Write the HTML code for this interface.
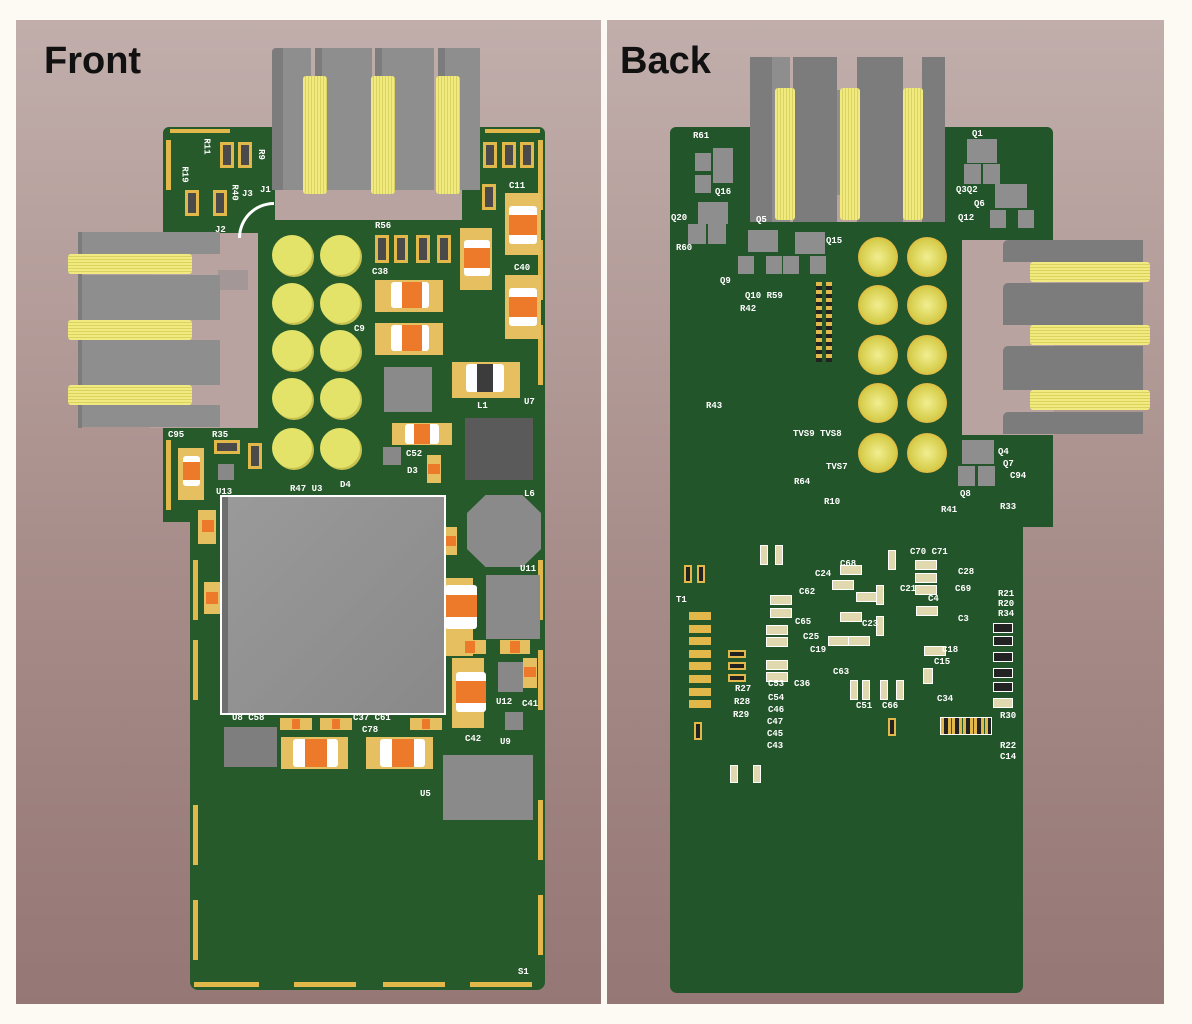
<!DOCTYPE html>
<html><head><meta charset="utf-8"><style>
*{margin:0;padding:0;box-sizing:border-box}
body{width:1192px;height:1024px;background:#fdfaf3;position:relative;overflow:hidden;font-family:"Liberation Mono",monospace}
div{position:absolute}
.panel{background:linear-gradient(#c1aeab,#a58a87 60%,#957775)}
.g{background:#275a2b}
.gb{background:#23552a}
.pk{background:#b8a3a0}
.gr{background:#8e8e8e}
.gd{background:#7c7c7c}
.cy{background:#eaea80}
.pad{background:#e2b84a}
.t{color:#fff;font-size:9px;font-weight:bold;line-height:9px;white-space:nowrap}
.circ{width:40px;height:40px;border-radius:50%;background:#e3e36a;box-shadow:2px 2px 0 #c8c250}
.bc{width:40px;height:40px;border-radius:50%;background:radial-gradient(#f2ee90,#d6ce4c 60%,#e8b040 75%)}
.cap{background:#fff;border-radius:3px}
.cap i{position:absolute;top:0;bottom:0;left:25%;right:25%;background:#ec7a2a}
.cv i{left:0;right:0;top:25%;bottom:25%}
.res{background:#4a4a4a;border:3px solid #e2b84a}
.sm{background:#e6c060}
.coil{background:repeating-linear-gradient(90deg,#f0ea80 0 2px,#d9d35e 2px 3px)}
.coilh{background:repeating-linear-gradient(0deg,#f0ea80 0 2px,#d9d35e 2px 3px)}
.h1{font-family:"Liberation Sans",sans-serif;font-weight:bold;font-size:38px;color:#111}
</style></head><body>

<!-- FRONT PANEL -->
<div class="panel" style="left:16px;top:20px;width:585px;height:984px"></div>
<div class="h1" style="left:44px;top:40px">Front</div>

<!-- front board -->
<div class="g" style="left:163px;top:127px;width:382px;height:395px;border-radius:6px 6px 0 0"></div>
<div class="g" style="left:190px;top:500px;width:355px;height:490px;border-radius:0 0 8px 8px"></div>
<!-- edge pads -->
<div class="pad" style="left:194px;top:982px;width:65px;height:5px"></div>
<div class="pad" style="left:294px;top:982px;width:62px;height:5px"></div>
<div class="pad" style="left:383px;top:982px;width:62px;height:5px"></div>
<div class="pad" style="left:470px;top:982px;width:62px;height:5px"></div>
<div class="pad" style="left:538px;top:140px;width:5px;height:70px"></div>
<div class="pad" style="left:538px;top:240px;width:5px;height:60px"></div>
<div class="pad" style="left:538px;top:325px;width:5px;height:60px"></div>
<div class="pad" style="left:538px;top:560px;width:5px;height:60px"></div>
<div class="pad" style="left:538px;top:650px;width:5px;height:60px"></div>
<div class="pad" style="left:538px;top:800px;width:5px;height:60px"></div>
<div class="pad" style="left:538px;top:895px;width:5px;height:60px"></div>
<div class="pad" style="left:193px;top:560px;width:5px;height:60px"></div>
<div class="pad" style="left:193px;top:640px;width:5px;height:60px"></div>
<div class="pad" style="left:193px;top:805px;width:5px;height:60px"></div>
<div class="pad" style="left:193px;top:900px;width:5px;height:60px"></div>
<div class="pad" style="left:166px;top:140px;width:5px;height:50px"></div>
<div class="pad" style="left:166px;top:440px;width:5px;height:70px"></div>
<div class="pad" style="left:170px;top:129px;width:60px;height:4px"></div>
<div class="pad" style="left:485px;top:129px;width:55px;height:4px"></div>

<!-- top connector cutout & connector -->
<div class="pk" style="left:275px;top:120px;width:187px;height:100px"></div>
<div class="gd" style="left:272px;top:48px;width:12px;height:142px;border-radius:4px 0 0 0"></div>
<div class="gr" style="left:283px;top:48px;width:28px;height:142px"></div>
<div class="gd" style="left:315px;top:48px;width:8px;height:142px"></div>
<div class="gr" style="left:322px;top:48px;width:50px;height:142px"></div>
<div class="gd" style="left:375px;top:48px;width:8px;height:142px"></div>
<div class="gr" style="left:382px;top:48px;width:52px;height:142px"></div>
<div class="gd" style="left:438px;top:48px;width:8px;height:142px"></div>
<div class="gr" style="left:445px;top:48px;width:35px;height:142px"></div>
<div class="coil" style="left:303px;top:76px;width:24px;height:118px;border-radius:3px"></div>
<div class="coil" style="left:371px;top:76px;width:24px;height:118px;border-radius:3px"></div>
<div class="coil" style="left:436px;top:76px;width:24px;height:118px;border-radius:3px"></div>

<!-- left connector -->
<div class="pk" style="left:150px;top:233px;width:108px;height:195px"></div>
<div class="gr" style="left:80px;top:232px;width:140px;height:22px"></div>
<div class="gr" style="left:80px;top:275px;width:140px;height:45px"></div>
<div class="gr" style="left:80px;top:340px;width:140px;height:45px"></div>
<div class="gr" style="left:80px;top:405px;width:140px;height:22px"></div>
<div class="gd" style="left:78px;top:232px;width:4px;height:196px"></div>
<div class="coilh" style="left:68px;top:254px;width:124px;height:20px;border-radius:3px"></div>
<div class="coilh" style="left:68px;top:320px;width:124px;height:20px;border-radius:3px"></div>
<div class="coilh" style="left:68px;top:385px;width:124px;height:20px;border-radius:3px"></div>
<div class="gr" style="left:218px;top:270px;width:30px;height:20px;opacity:.5"></div>

<!-- front circles -->
<div class="circ" style="left:272px;top:235px"></div><div class="circ" style="left:320px;top:235px"></div>
<div class="circ" style="left:272px;top:283px"></div><div class="circ" style="left:320px;top:283px"></div>
<div class="circ" style="left:272px;top:330px"></div><div class="circ" style="left:320px;top:330px"></div>
<div class="circ" style="left:272px;top:378px"></div><div class="circ" style="left:320px;top:378px"></div>
<div class="circ" style="left:272px;top:428px"></div><div class="circ" style="left:320px;top:428px"></div>
<div style="left:238px;top:202px;width:36px;height:36px;border:3px solid #fff;border-right:none;border-bottom:none;border-radius:36px 0 0 0"></div>

<!-- front resistors -->
<div class="res" style="left:220px;top:142px;width:14px;height:26px"></div>
<div class="res" style="left:238px;top:142px;width:14px;height:26px"></div>
<div class="res" style="left:185px;top:190px;width:14px;height:26px"></div>
<div class="res" style="left:213px;top:190px;width:14px;height:26px"></div>
<div class="res" style="left:483px;top:142px;width:14px;height:26px"></div>
<div class="res" style="left:502px;top:142px;width:14px;height:26px"></div>
<div class="res" style="left:520px;top:142px;width:14px;height:26px"></div>
<div class="res" style="left:482px;top:184px;width:14px;height:26px"></div>
<div class="res" style="left:375px;top:235px;width:14px;height:28px"></div>
<div class="res" style="left:394px;top:235px;width:14px;height:28px"></div>
<div class="res" style="left:416px;top:235px;width:14px;height:28px"></div>
<div class="res" style="left:437px;top:235px;width:14px;height:28px"></div>
<div class="res" style="left:214px;top:440px;width:26px;height:14px"></div>
<div class="res" style="left:248px;top:443px;width:14px;height:26px"></div>

<!-- front caps -->
<div class="sm" style="left:505px;top:193px;width:36px;height:62px"></div>
<div class="cap" style="left:509px;top:206px;width:28px;height:38px"></div><div style="left:509px;top:215px;width:28px;height:20px;background:#ec7a2a"></div>
<div class="sm" style="left:505px;top:275px;width:36px;height:64px"></div>
<div class="cap" style="left:509px;top:288px;width:28px;height:38px"></div><div style="left:509px;top:297px;width:28px;height:20px;background:#ec7a2a"></div>
<div class="sm" style="left:460px;top:228px;width:32px;height:62px"></div>
<div class="cap" style="left:464px;top:240px;width:26px;height:36px"></div><div style="left:464px;top:248px;width:26px;height:20px;background:#ec7a2a"></div>
<div class="sm" style="left:375px;top:280px;width:68px;height:32px"></div>
<div class="cap" style="left:391px;top:282px;width:38px;height:26px"></div><div style="left:402px;top:282px;width:20px;height:26px;background:#ec7a2a"></div>
<div class="sm" style="left:375px;top:323px;width:68px;height:32px"></div>
<div class="cap" style="left:391px;top:325px;width:38px;height:26px"></div><div style="left:402px;top:325px;width:20px;height:26px;background:#ec7a2a"></div>
<div class="sm" style="left:392px;top:423px;width:60px;height:22px"></div>
<div class="cap" style="left:405px;top:424px;width:34px;height:20px"></div><div style="left:414px;top:424px;width:16px;height:20px;background:#ec7a2a"></div>
<div class="sm" style="left:452px;top:362px;width:68px;height:36px"></div>
<div class="cap" style="left:466px;top:364px;width:38px;height:28px"></div><div style="left:477px;top:364px;width:16px;height:28px;background:#3c3c3c"></div>
<div class="sm" style="left:178px;top:448px;width:26px;height:52px"></div>
<div class="cap" style="left:183px;top:456px;width:17px;height:30px"></div><div style="left:183px;top:462px;width:17px;height:18px;background:#ec7a2a"></div>
<div class="sm" style="left:198px;top:510px;width:18px;height:34px"></div><div style="left:202px;top:520px;width:12px;height:12px;background:#ec7a2a"></div>
<div class="sm" style="left:204px;top:582px;width:16px;height:32px"></div><div style="left:206px;top:592px;width:12px;height:12px;background:#ec7a2a"></div>
<div class="sm" style="left:445px;top:578px;width:28px;height:78px"></div>
<div class="cap" style="left:445px;top:585px;width:32px;height:44px"></div><div style="left:445px;top:595px;width:32px;height:22px;background:#ec7a2a"></div>
<div class="sm" style="left:452px;top:658px;width:32px;height:70px"></div>
<div class="cap" style="left:456px;top:672px;width:30px;height:40px"></div><div style="left:456px;top:681px;width:30px;height:22px;background:#ec7a2a"></div>
<div class="sm" style="left:456px;top:640px;width:30px;height:14px"></div><div style="left:465px;top:641px;width:10px;height:12px;background:#ec7a2a"></div>
<div class="sm" style="left:500px;top:640px;width:30px;height:14px"></div><div style="left:510px;top:641px;width:10px;height:12px;background:#ec7a2a"></div>
<div class="sm" style="left:523px;top:658px;width:14px;height:30px"></div><div style="left:524px;top:667px;width:12px;height:10px;background:#ec7a2a"></div>
<div class="sm" style="left:280px;top:718px;width:32px;height:12px"></div><div style="left:292px;top:719px;width:8px;height:10px;background:#ec7a2a"></div>
<div class="sm" style="left:320px;top:718px;width:32px;height:12px"></div><div style="left:332px;top:719px;width:8px;height:10px;background:#ec7a2a"></div>
<div class="sm" style="left:410px;top:718px;width:32px;height:12px"></div><div style="left:422px;top:719px;width:8px;height:10px;background:#ec7a2a"></div>
<div class="sm" style="left:281px;top:737px;width:67px;height:32px"></div>
<div class="cap" style="left:293px;top:739px;width:45px;height:28px"></div><div style="left:305px;top:739px;width:22px;height:28px;background:#ec7a2a"></div>
<div class="sm" style="left:366px;top:737px;width:67px;height:32px"></div>
<div class="cap" style="left:380px;top:739px;width:45px;height:28px"></div><div style="left:392px;top:739px;width:22px;height:28px;background:#ec7a2a"></div>
<div class="sm" style="left:443px;top:527px;width:14px;height:28px"></div><div style="left:444px;top:536px;width:12px;height:10px;background:#ec7a2a"></div>
<div class="sm" style="left:427px;top:455px;width:14px;height:28px"></div><div style="left:428px;top:464px;width:12px;height:10px;background:#ec7a2a"></div>

<!-- front chips -->
<div style="left:220px;top:495px;width:226px;height:220px;background:#fff"></div>
<div style="left:222px;top:497px;width:222px;height:216px;background:linear-gradient(135deg,#9a9a9a,#898989)"></div>
<div style="left:222px;top:497px;width:6px;height:216px;background:#6e6e6e"></div>
<div style="left:467px;top:495px;width:74px;height:72px;background:#8a8a8a;clip-path:polygon(25% 0,75% 0,100% 25%,100% 75%,75% 100%,25% 100%,0 75%,0 25%)"></div>
<div style="left:465px;top:418px;width:68px;height:62px;background:#5a5a5a"></div>
<div style="left:384px;top:367px;width:48px;height:45px;background:#8a8a8a"></div>
<div style="left:486px;top:575px;width:54px;height:64px;background:#8a8a8a"></div>
<div style="left:443px;top:755px;width:90px;height:65px;background:#8a8a8a"></div>
<div style="left:224px;top:727px;width:53px;height:40px;background:#7e7e7e"></div>
<div style="left:498px;top:662px;width:25px;height:30px;background:#888"></div>
<div style="left:505px;top:712px;width:18px;height:18px;background:#888"></div>
<div style="left:383px;top:447px;width:18px;height:18px;background:#888"></div>
<div style="left:218px;top:464px;width:16px;height:16px;background:#888"></div>

<!-- front labels -->
<div class="t" style="left:198px;top:142px;transform:rotate(90deg)">R11</div>
<div class="t" style="left:176px;top:170px;transform:rotate(90deg)">R19</div>
<div class="t" style="left:255px;top:150px;transform:rotate(90deg)">R9</div>
<div class="t" style="left:226px;top:188px;transform:rotate(90deg)">R40</div>
<div class="t" style="left:242px;top:190px">J3</div><div class="t" style="left:260px;top:186px">J1</div>
<div class="t" style="left:215px;top:226px">J2</div>
<div class="t" style="left:509px;top:182px">C11</div>
<div class="t" style="left:375px;top:222px">R56</div>
<div class="t" style="left:372px;top:268px">C38</div>
<div class="t" style="left:514px;top:264px">C40</div>
<div class="t" style="left:354px;top:325px">C9</div>
<div class="t" style="left:168px;top:431px">C95</div><div class="t" style="left:212px;top:431px">R35</div>
<div class="t" style="left:216px;top:488px">U13</div>
<div class="t" style="left:290px;top:485px">R47 U3</div>
<div class="t" style="left:340px;top:481px">D4</div>
<div class="t" style="left:406px;top:450px">C52</div>
<div class="t" style="left:407px;top:467px">D3</div>
<div class="t" style="left:477px;top:402px">L1</div>
<div class="t" style="left:524px;top:398px">U7</div>
<div class="t" style="left:524px;top:490px">L6</div>
<div class="t" style="left:520px;top:565px">U11</div>
<div class="t" style="left:496px;top:698px">U12</div>
<div class="t" style="left:522px;top:700px">C41</div>
<div class="t" style="left:465px;top:735px">C42</div>
<div class="t" style="left:500px;top:738px">U9</div>
<div class="t" style="left:232px;top:714px">U8 C58</div>
<div class="t" style="left:353px;top:714px">C37 C61</div>
<div class="t" style="left:362px;top:726px">C78</div>
<div class="t" style="left:420px;top:790px">U5</div>
<div class="t" style="left:518px;top:968px">S1</div>

<!-- separator -->
<div style="left:601px;top:20px;width:6px;height:984px;background:#fdfaf3"></div>

<!-- BACK PANEL -->
<div class="panel" style="left:607px;top:20px;width:557px;height:984px"></div>
<div class="h1" style="left:620px;top:40px">Back</div>

<div class="gb" style="left:670px;top:127px;width:383px;height:400px;border-radius:6px 6px 0 0"></div>
<div class="gb" style="left:670px;top:500px;width:353px;height:493px;border-radius:0 0 7px 7px"></div>
<!-- cutouts -->
<div class="pk" style="left:752px;top:120px;width:193px;height:102px"></div>
<div class="pk" style="left:962px;top:240px;width:92px;height:195px"></div>
<!-- top connector back -->
<div class="gd" style="left:750px;top:57px;width:22px;height:165px"></div>
<div class="gr" style="left:772px;top:57px;width:18px;height:165px"></div>
<div class="gd" style="left:793px;top:57px;width:44px;height:165px"></div>
<div class="gd" style="left:857px;top:57px;width:46px;height:165px"></div>
<div class="gd" style="left:922px;top:57px;width:23px;height:165px"></div>
<div class="gr" style="left:837px;top:90px;width:20px;height:105px"></div>
<div class="gr" style="left:903px;top:90px;width:19px;height:105px"></div>
<div class="coil" style="left:775px;top:88px;width:20px;height:132px;border-radius:3px"></div>
<div class="coil" style="left:840px;top:88px;width:20px;height:132px;border-radius:3px"></div>
<div class="coil" style="left:903px;top:88px;width:20px;height:132px;border-radius:3px"></div>
<!-- right connector back -->
<div class="gd" style="left:1003px;top:240px;width:140px;height:22px;border-radius:5px 0 0 0"></div>
<div class="gd" style="left:1003px;top:283px;width:140px;height:42px;border-radius:5px 0 0 0"></div>
<div class="gd" style="left:1003px;top:346px;width:140px;height:44px;border-radius:5px 0 0 0"></div>
<div class="gd" style="left:1003px;top:412px;width:140px;height:22px;border-radius:5px 0 0 0"></div>
<div class="coilh" style="left:1030px;top:262px;width:120px;height:20px;border-radius:3px"></div>
<div class="coilh" style="left:1030px;top:325px;width:120px;height:20px;border-radius:3px"></div>
<div class="coilh" style="left:1030px;top:390px;width:120px;height:20px;border-radius:3px"></div>
<!-- back circles -->
<div class="bc" style="left:858px;top:237px"></div><div class="bc" style="left:907px;top:237px"></div>
<div class="bc" style="left:858px;top:285px"></div><div class="bc" style="left:907px;top:285px"></div>
<div class="bc" style="left:858px;top:335px"></div><div class="bc" style="left:907px;top:335px"></div>
<div class="bc" style="left:858px;top:383px"></div><div class="bc" style="left:907px;top:383px"></div>
<div class="bc" style="left:858px;top:433px"></div><div class="bc" style="left:907px;top:433px"></div>
<!-- back chips -->
<div class="gr" style="left:695px;top:153px;width:16px;height:18px"></div>
<div class="gr" style="left:695px;top:175px;width:16px;height:18px"></div>
<div class="gr" style="left:713px;top:148px;width:20px;height:35px"></div>
<div class="gr" style="left:698px;top:202px;width:30px;height:22px"></div>
<div class="gr" style="left:688px;top:224px;width:18px;height:20px"></div>
<div class="gr" style="left:708px;top:224px;width:18px;height:20px"></div>
<div class="gr" style="left:748px;top:230px;width:30px;height:22px"></div>
<div class="gr" style="left:795px;top:232px;width:30px;height:22px"></div>
<div class="gr" style="left:738px;top:256px;width:16px;height:18px"></div>
<div class="gr" style="left:766px;top:256px;width:16px;height:18px"></div>
<div class="gr" style="left:783px;top:256px;width:16px;height:18px"></div>
<div class="gr" style="left:810px;top:256px;width:16px;height:18px"></div>
<div class="gr" style="left:967px;top:139px;width:30px;height:24px"></div>
<div class="gr" style="left:964px;top:164px;width:17px;height:20px"></div>
<div class="gr" style="left:983px;top:164px;width:17px;height:20px"></div>
<div class="gr" style="left:995px;top:184px;width:32px;height:24px"></div>
<div class="gr" style="left:990px;top:210px;width:16px;height:18px"></div>
<div class="gr" style="left:1018px;top:210px;width:16px;height:18px"></div>
<div class="gr" style="left:962px;top:440px;width:32px;height:24px"></div>
<div class="gr" style="left:958px;top:466px;width:17px;height:20px"></div>
<div class="gr" style="left:978px;top:466px;width:17px;height:20px"></div>
<!-- T1 pads -->
<div class="pad" style="left:689px;top:612px;width:22px;height:8px"></div>
<div class="pad" style="left:689px;top:625px;width:22px;height:8px"></div>
<div class="pad" style="left:689px;top:637px;width:22px;height:8px"></div>
<div class="pad" style="left:689px;top:650px;width:22px;height:8px"></div>
<div class="pad" style="left:689px;top:662px;width:22px;height:8px"></div>
<div class="pad" style="left:689px;top:675px;width:22px;height:8px"></div>
<div class="pad" style="left:689px;top:688px;width:22px;height:8px"></div>
<div class="pad" style="left:689px;top:700px;width:22px;height:8px"></div>
<!-- small back parts -->
<div style="left:770px;top:595px;width:22px;height:10px;border:1px solid #fff;background:#e0d9b0"></div>
<div style="left:770px;top:608px;width:22px;height:10px;border:1px solid #fff;background:#e0d9b0"></div>
<div style="left:766px;top:625px;width:22px;height:10px;border:1px solid #fff;background:#e0d9b0"></div>
<div style="left:766px;top:637px;width:22px;height:10px;border:1px solid #fff;background:#e0d9b0"></div>
<div style="left:766px;top:660px;width:22px;height:10px;border:1px solid #fff;background:#e0d9b0"></div>
<div style="left:766px;top:672px;width:22px;height:10px;border:1px solid #fff;background:#e0d9b0"></div>
<div style="left:840px;top:565px;width:22px;height:10px;border:1px solid #fff;background:#e0d9b0"></div>
<div style="left:832px;top:580px;width:22px;height:10px;border:1px solid #fff;background:#e0d9b0"></div>
<div style="left:856px;top:592px;width:22px;height:10px;border:1px solid #fff;background:#e0d9b0"></div>
<div style="left:840px;top:612px;width:22px;height:10px;border:1px solid #fff;background:#e0d9b0"></div>
<div style="left:828px;top:636px;width:22px;height:10px;border:1px solid #fff;background:#e0d9b0"></div>
<div style="left:848px;top:636px;width:22px;height:10px;border:1px solid #fff;background:#e0d9b0"></div>
<div style="left:915px;top:560px;width:22px;height:10px;border:1px solid #fff;background:#e0d9b0"></div>
<div style="left:915px;top:573px;width:22px;height:10px;border:1px solid #fff;background:#e0d9b0"></div>
<div style="left:915px;top:585px;width:22px;height:10px;border:1px solid #fff;background:#e0d9b0"></div>
<div style="left:916px;top:606px;width:22px;height:10px;border:1px solid #fff;background:#e0d9b0"></div>
<div style="left:924px;top:646px;width:22px;height:10px;border:1px solid #fff;background:#e0d9b0"></div>
<div style="left:888px;top:550px;width:8px;height:20px;border:1px solid #fff;background:#e0d9b0"></div>
<div style="left:876px;top:585px;width:8px;height:20px;border:1px solid #fff;background:#e0d9b0"></div>
<div style="left:876px;top:616px;width:8px;height:20px;border:1px solid #fff;background:#e0d9b0"></div>
<div style="left:850px;top:680px;width:8px;height:20px;border:1px solid #fff;background:#e0d9b0"></div>
<div style="left:862px;top:680px;width:8px;height:20px;border:1px solid #fff;background:#e0d9b0"></div>
<div style="left:880px;top:680px;width:8px;height:20px;border:1px solid #fff;background:#e0d9b0"></div>
<div style="left:896px;top:680px;width:8px;height:20px;border:1px solid #fff;background:#e0d9b0"></div>
<div style="left:923px;top:668px;width:10px;height:16px;border:1px solid #fff;background:#e0d9b0"></div>
<div style="left:760px;top:545px;width:8px;height:20px;border:1px solid #fff;background:#e0d9b0"></div>
<div style="left:775px;top:545px;width:8px;height:20px;border:1px solid #fff;background:#e0d9b0"></div>
<div style="left:730px;top:765px;width:8px;height:18px;border:1px solid #fff;background:#e0d9b0"></div>
<div style="left:753px;top:765px;width:8px;height:18px;border:1px solid #fff;background:#e0d9b0"></div>
<div style="left:993px;top:623px;width:20px;height:10px;border:1px solid #fff;background:#222"></div>
<div style="left:993px;top:636px;width:20px;height:10px;border:1px solid #fff;background:#222"></div>
<div style="left:993px;top:652px;width:20px;height:10px;border:1px solid #fff;background:#222"></div>
<div style="left:993px;top:668px;width:20px;height:10px;border:1px solid #fff;background:#222"></div>
<div style="left:993px;top:682px;width:20px;height:10px;border:1px solid #fff;background:#222"></div>
<div style="left:993px;top:698px;width:20px;height:10px;border:1px solid #fff;background:#e0d9b0"></div>
<div style="left:940px;top:717px;width:52px;height:18px;border:1px solid #fff;background:repeating-linear-gradient(90deg,#e2b84a 0 3px,#222 3px 7px,#e2b84a 7px 10px,#235a2a 10px 11px)"></div>
<div style="left:728px;top:650px;width:18px;height:8px;background:#222;border:2px solid #e2b84a"></div>
<div style="left:728px;top:662px;width:18px;height:8px;background:#222;border:2px solid #e2b84a"></div>
<div style="left:728px;top:674px;width:18px;height:8px;background:#222;border:2px solid #e2b84a"></div>
<div style="left:684px;top:565px;width:8px;height:18px;background:#222;border:2px solid #e2b84a"></div>
<div style="left:697px;top:565px;width:8px;height:18px;background:#222;border:2px solid #e2b84a"></div>
<div style="left:694px;top:722px;width:8px;height:18px;background:#222;border:2px solid #e2b84a"></div>
<div style="left:888px;top:718px;width:8px;height:18px;background:#222;border:2px solid #e2b84a"></div>
<div style="left:816px;top:282px;width:6px;height:80px;background:repeating-linear-gradient(#e2b84a 0 4px,#222 4px 8px)"></div>
<div style="left:826px;top:282px;width:6px;height:80px;background:repeating-linear-gradient(#e2b84a 0 4px,#222 4px 8px)"></div>
<!-- back labels -->
<div class="t" style="left:693px;top:132px">R61</div>
<div class="t" style="left:715px;top:188px">Q16</div>
<div class="t" style="left:671px;top:214px">Q20</div>
<div class="t" style="left:676px;top:244px">R60</div>
<div class="t" style="left:756px;top:216px">Q5</div>
<div class="t" style="left:826px;top:237px">Q15</div>
<div class="t" style="left:720px;top:277px">Q9</div>
<div class="t" style="left:745px;top:292px">Q10 R59</div>
<div class="t" style="left:740px;top:305px">R42</div>
<div class="t" style="left:706px;top:402px">R43</div>
<div class="t" style="left:793px;top:430px">TVS9 TVS8</div>
<div class="t" style="left:826px;top:463px">TVS7</div>
<div class="t" style="left:794px;top:478px">R64</div>
<div class="t" style="left:824px;top:498px">R10</div>
<div class="t" style="left:972px;top:130px">Q1</div>
<div class="t" style="left:956px;top:186px">Q3Q2</div>
<div class="t" style="left:974px;top:200px">Q6</div>
<div class="t" style="left:958px;top:214px">Q12</div>
<div class="t" style="left:998px;top:448px">Q4</div>
<div class="t" style="left:1003px;top:460px">Q7</div>
<div class="t" style="left:1010px;top:472px">C94</div>
<div class="t" style="left:960px;top:490px">Q8</div>
<div class="t" style="left:941px;top:506px">R41</div>
<div class="t" style="left:1000px;top:503px">R33</div>
<div class="t" style="left:676px;top:596px">T1</div>
<div class="t" style="left:815px;top:570px">C24</div>
<div class="t" style="left:840px;top:560px">C68</div>
<div class="t" style="left:799px;top:588px">C62</div>
<div class="t" style="left:910px;top:548px">C70 C71</div>
<div class="t" style="left:958px;top:568px">C28</div>
<div class="t" style="left:955px;top:585px">C69</div>
<div class="t" style="left:900px;top:585px">C21</div>
<div class="t" style="left:928px;top:595px">C4</div>
<div class="t" style="left:958px;top:615px">C3</div>
<div class="t" style="left:862px;top:620px">C23</div>
<div class="t" style="left:795px;top:618px">C65</div>
<div class="t" style="left:803px;top:633px">C25</div>
<div class="t" style="left:810px;top:646px">C19</div>
<div class="t" style="left:942px;top:646px">C18</div>
<div class="t" style="left:934px;top:658px">C15</div>
<div class="t" style="left:833px;top:668px">C63</div>
<div class="t" style="left:768px;top:680px">C53</div>
<div class="t" style="left:794px;top:680px">C36</div>
<div class="t" style="left:735px;top:685px">R27</div>
<div class="t" style="left:734px;top:698px">R28</div>
<div class="t" style="left:733px;top:711px">R29</div>
<div class="t" style="left:768px;top:694px">C54</div>
<div class="t" style="left:768px;top:706px">C46</div>
<div class="t" style="left:767px;top:718px">C47</div>
<div class="t" style="left:767px;top:730px">C45</div>
<div class="t" style="left:767px;top:742px">C43</div>
<div class="t" style="left:856px;top:702px">C51</div>
<div class="t" style="left:882px;top:702px">C66</div>
<div class="t" style="left:937px;top:695px">C34</div>
<div class="t" style="left:998px;top:590px">R21</div>
<div class="t" style="left:998px;top:600px">R20</div>
<div class="t" style="left:998px;top:610px">R34</div>
<div class="t" style="left:1000px;top:712px">R30</div>
<div class="t" style="left:1000px;top:742px">R22</div>
<div class="t" style="left:1000px;top:753px">C14</div>
</body></html>
